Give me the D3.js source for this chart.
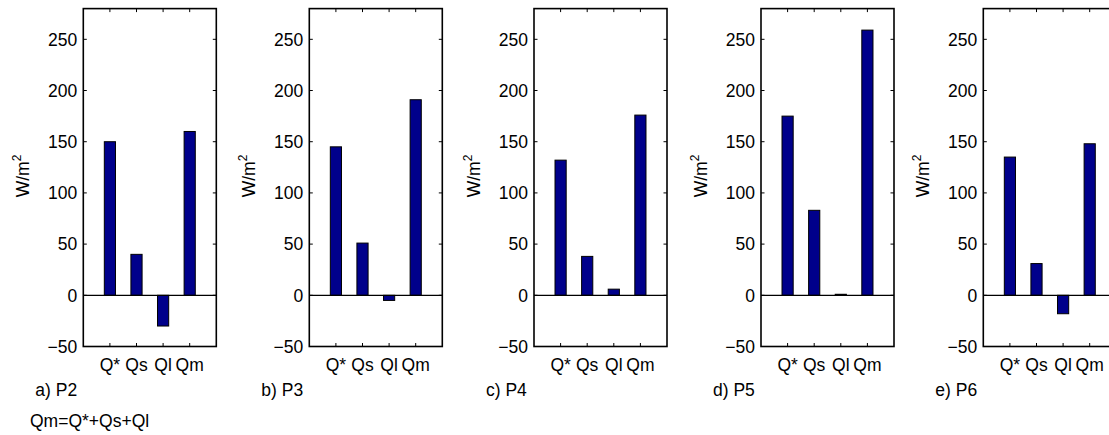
<!DOCTYPE html>
<html>
<head>
<meta charset="utf-8">
<script src="https://cdn.jsdelivr.net/npm/d3@7"></script>
<style>
  body { margin: 0; background: #fff; }
  text { font-family: "Liberation Sans", Arial, sans-serif; fill: #000; }
</style>
</head>
<body>
<script>
var width = 1109, height = 435;

// data (W/m^2)
var fluxNames = ["Q*", "Qs", "Ql", "Qm"];
var panelTitles = ["a) P2", "b) P3", "c) P4", "d) P5", "e) P6"];
var valuesP2 = [150, 40, -30, 160];
var valuesP3 = [145, 51, -5, 191];
var valuesP4 = [132, 38, 6, 176];
var valuesP5 = [175, 83, 1, 259];
var valuesP6 = [135, 31, -18, 148];
var yTicks = [-50, 0, 50, 100, 150, 200, 250];
var yDomain = [-50, 280];
var footnote = "Qm=Q*+Qs+Ql";

var panels = [valuesP2, valuesP3, valuesP4, valuesP5, valuesP6];

// layout
var panelLeft = [83.3, 309.3, 534, 761, 983.3];
var boxW = 133, boxTop = 8.6, boxBottom = 346.5;
var tickLen = 3.5;
var fontSize = 17.5;
var barColor = "#00008b";

var svg = d3.select("body")
  .append("svg")
  .attr("width", width)
  .attr("height", height);

var y = d3.scaleLinear()
  .domain(yDomain)
  .range([boxBottom, boxTop]);

panels.forEach(function(vals, i) {
  var left = panelLeft[i];
  var x = d3.scaleLinear()
    .domain([0, fluxNames.length + 1])
    .range([left, left + boxW]);
  var barW = (x(1) - x(0)) * 0.42;

  var g = svg.append("g");

  // bars
  g.selectAll(".bar")
    .data(vals)
    .enter()
    .append("rect")
    .attr("class", "bar")
    .attr("x", function(d, j) { return x(j + 1) - barW / 2; })
    .attr("width", barW)
    .attr("y", function(d) { return y(Math.max(d, 0)); })
    .attr("height", function(d) { return Math.abs(y(d) - y(0)); })
    .attr("fill", barColor)
    .attr("stroke", "#000")
    .attr("stroke-width", 1);

  // zero line
  g.append("line")
    .attr("x1", x(0)).attr("x2", x(fluxNames.length + 1))
    .attr("y1", y(0)).attr("y2", y(0))
    .attr("stroke", "#000").attr("stroke-width", 1.2);

  // y ticks, inside on both sides
  yTicks.forEach(function(t) {
    g.append("line")
      .attr("x1", left).attr("x2", left + tickLen)
      .attr("y1", y(t)).attr("y2", y(t))
      .attr("stroke", "#000").attr("stroke-width", 1);
    g.append("line")
      .attr("x1", left + boxW - tickLen).attr("x2", left + boxW)
      .attr("y1", y(t)).attr("y2", y(t))
      .attr("stroke", "#000").attr("stroke-width", 1);
  });

  g.selectAll(".ylab")
    .data(yTicks)
    .enter()
    .append("text")
    .attr("class", "ylab")
    .attr("x", left - 6)
    .attr("y", function(t) { return y(t); })
    .attr("dy", "0.36em")
    .attr("text-anchor", "end")
    .attr("font-size", fontSize)
    .text(function(t) { return t < 0 ? "\u2212" + Math.abs(t) : t; });

  // x ticks top and bottom
  fluxNames.forEach(function(n, j) {
    g.append("line")
      .attr("x1", x(j + 1)).attr("x2", x(j + 1))
      .attr("y1", boxBottom).attr("y2", boxBottom - tickLen)
      .attr("stroke", "#000").attr("stroke-width", 1);
    g.append("line")
      .attr("x1", x(j + 1)).attr("x2", x(j + 1))
      .attr("y1", boxTop).attr("y2", boxTop + tickLen)
      .attr("stroke", "#000").attr("stroke-width", 1);
  });

  g.selectAll(".xlab")
    .data(fluxNames)
    .enter()
    .append("text")
    .attr("class", "xlab")
    .attr("x", function(d, j) { return x(j + 1); })
    .attr("y", 371)
    .attr("text-anchor", "middle")
    .attr("font-size", fontSize)
    .text(function(d) { return d; });

  // axes box
  g.append("rect")
    .attr("x", left).attr("y", boxTop)
    .attr("width", boxW).attr("height", boxBottom - boxTop)
    .attr("fill", "none")
    .attr("stroke", "#000").attr("stroke-width", 1.6);

  // y label
  var yl = g.append("text")
    .attr("transform", "translate(" + (left - 54) + "," + 176 + ") rotate(-90)")
    .attr("text-anchor", "middle")
    .attr("font-size", fontSize);
  yl.append("tspan").text("W/m");
  yl.append("tspan")
    .attr("font-size", 12)
    .attr("dy", "-0.7em")
    .text("2");

  // panel title
  g.append("text")
    .attr("x", left - 48)
    .attr("y", 395.5)
    .attr("font-size", fontSize)
    .text(panelTitles[i]);
});

svg.append("text")
  .attr("x", 30)
  .attr("y", 427)
  .attr("font-size", fontSize)
  .text(footnote);
</script>
</body>
</html>
